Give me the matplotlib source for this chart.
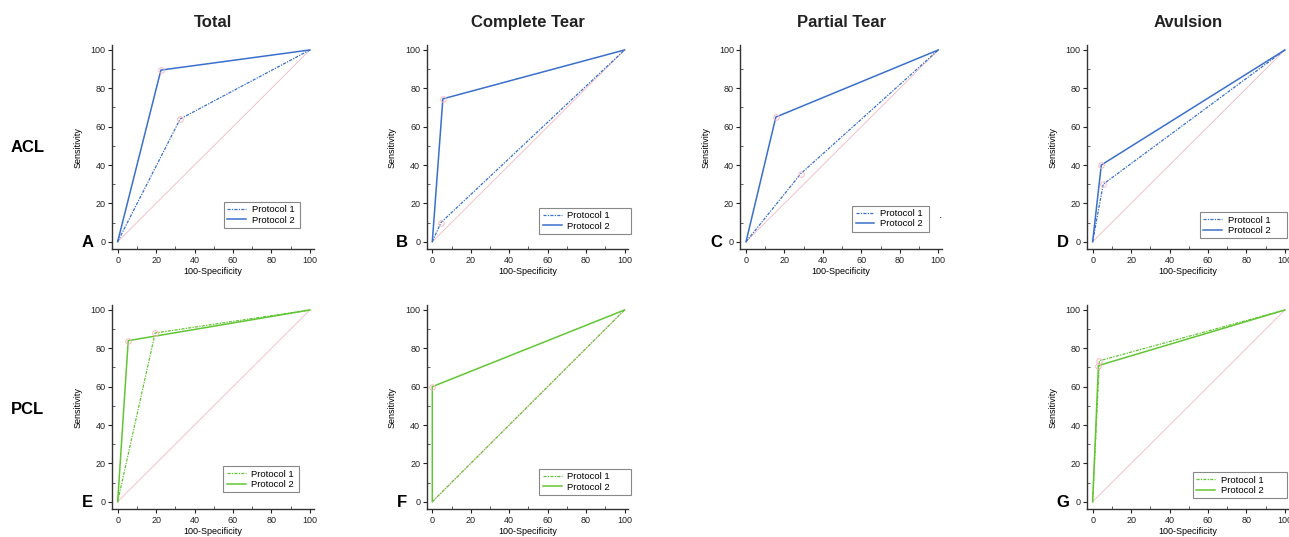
import matplotlib
matplotlib.use("Agg")
import matplotlib.pyplot as plt
from matplotlib.ticker import MultipleLocator

plt.rcParams['font.family'] = ['Liberation Sans', 'DejaVu Sans']

# ROC operating points (100-Specificity, Sensitivity)
acl_total_p1_x = [0, 32.5, 100]
acl_total_p1_y = [0, 64, 100]
acl_total_p2_x = [0, 22.5, 100]
acl_total_p2_y = [0, 89.5, 100]

acl_complete_p1_x = [0, 4.5, 100]
acl_complete_p1_y = [0, 10, 100]
acl_complete_p2_x = [0, 5.5, 100]
acl_complete_p2_y = [0, 74.5, 100]

acl_partial_p1_x = [0, 28.5, 100]
acl_partial_p1_y = [0, 35.5, 100]
acl_partial_p2_x = [0, 15.5, 100]
acl_partial_p2_y = [0, 65, 100]

acl_avulsion_p1_x = [0, 5.5, 100]
acl_avulsion_p1_y = [0, 30, 100]
acl_avulsion_p2_x = [0, 4.5, 100]
acl_avulsion_p2_y = [0, 40, 100]

pcl_total_p1_x = [0, 19.5, 100]
pcl_total_p1_y = [0, 88, 100]
pcl_total_p2_x = [0, 5.5, 100]
pcl_total_p2_y = [0, 84, 100]

pcl_complete_p1_x = [0, 100]
pcl_complete_p1_y = [0, 100]
pcl_complete_p2_x = [0, 0, 100]
pcl_complete_p2_y = [0, 60, 100]

pcl_avulsion_p1_x = [0, 3.5, 100]
pcl_avulsion_p1_y = [0, 73.5, 100]
pcl_avulsion_p2_x = [0, 3, 100]
pcl_avulsion_p2_y = [0, 71, 100]

col_titles = ['Total', 'Complete Tear', 'Partial Tear', 'Avulsion']
row_titles = ['ACL', 'PCL']
legend_labels = ['Protocol 1', 'Protocol 2']
ticks = [0, 20, 40, 60, 80, 100]

BLUE = '#3a70cc'
GREEN = '#62c634'
PINK = '#f5b8c2'

fig = plt.figure(figsize=(12.89, 5.37), dpi=100)

lefts = [0.0868, 0.3309, 0.5743, 0.8432]
bottoms = [0.5356, 0.0514]
W, H = 0.1566, 0.3803

# (letter, row, col, p1, p2, colour, legend bbox)
panels = [
    ('A', 0, 0, (acl_total_p1_x, acl_total_p1_y), (acl_total_p2_x, acl_total_p2_y), BLUE, (0.555, 0.105, 0.376)),
    ('B', 0, 1, (acl_complete_p1_x, acl_complete_p1_y), (acl_complete_p2_x, acl_complete_p2_y), BLUE, (0.559, 0.075, 0.455)),
    ('C', 0, 2, (acl_partial_p1_x, acl_partial_p1_y), (acl_partial_p2_x, acl_partial_p2_y), BLUE, (0.555, 0.087, 0.381)),
    ('D', 0, 3, (acl_avulsion_p1_x, acl_avulsion_p1_y), (acl_avulsion_p2_x, acl_avulsion_p2_y), BLUE, (0.560, 0.054, 0.430)),
    ('E', 1, 0, (pcl_total_p1_x, pcl_total_p1_y), (pcl_total_p2_x, pcl_total_p2_y), GREEN, (0.552, 0.084, 0.376)),
    ('F', 1, 1, (pcl_complete_p1_x, pcl_complete_p1_y), (pcl_complete_p2_x, pcl_complete_p2_y), GREEN, (0.559, 0.070, 0.455)),
    ('G', 1, 3, (pcl_avulsion_p1_x, pcl_avulsion_p1_y), (pcl_avulsion_p2_x, pcl_avulsion_p2_y), GREEN, (0.524, 0.054, 0.466)),
]

for letter, r, c, p1, p2, colour, lg in panels:
    ax = fig.add_axes([lefts[c], bottoms[r], W, H])

    # reference diagonal
    ax.plot([0, 100], [0, 100], color=PINK, lw=0.6, zorder=1)

    l1, = ax.plot(p1[0], p1[1], color=colour, lw=0.9, linestyle=(0, (2.5, 1, 1, 1)), zorder=3)
    l2, = ax.plot(p2[0], p2[1], color=colour, lw=1.1, zorder=3)

    # operating points
    for px, py in (p1, p2):
        ax.plot(px[1:-1], py[1:-1], 'o', ms=4, mfc='none', mec=PINK, mew=0.7, zorder=4)

    ax.set_xlim(-3, 102)
    ax.set_ylim(-4, 102.5)
    ax.set_xticks(ticks)
    ax.set_yticks(ticks)
    ax.xaxis.set_minor_locator(MultipleLocator(10))
    ax.yaxis.set_minor_locator(MultipleLocator(10))
    ax.tick_params(which='major', direction='out', length=3, width=0.8, labelsize=6.5, pad=1.5, colors='#222222')
    ax.tick_params(which='minor', direction='in', length=2, width=0.6, colors='#444444')
    for s in ('top', 'right'):
        ax.spines[s].set_visible(False)
    for s in ('left', 'bottom'):
        ax.spines[s].set_linewidth(1.0)
        ax.spines[s].set_color('#333333')

    ax.set_xlabel('100-Specificity', fontsize=6.5, labelpad=2)
    ax.set_ylabel('Sensitivity', fontsize=6.5, labelpad=6)

    leg = ax.legend([l1, l2], legend_labels, loc='lower left', mode='expand',
                    bbox_to_anchor=(lg[0], lg[1], lg[2], 0.1), fontsize=6.8,
                    handlelength=2.0, handletextpad=0.6, labelspacing=0.15,
                    borderpad=0.35, borderaxespad=0, fancybox=False, framealpha=1)
    leg.get_frame().set_edgecolor('#888888')
    leg.get_frame().set_linewidth(0.8)

    ax.text(-0.12, 0.035, letter, transform=ax.transAxes, fontsize=12,
            fontweight='bold', ha='center', va='center')

    if r == 0:
        fig.text(lefts[c] + W / 2, 0.959, col_titles[c], fontsize=12,
                 fontweight='bold', ha='center', va='center', color='#222222')

    if letter == 'C':
        ax.text(0.993, 0.149, '•', transform=ax.transAxes, fontsize=3,
                ha='center', va='center')

fig.text(0.0217, 0.7244, row_titles[0], fontsize=12, fontweight='bold', ha='center', va='center')
fig.text(0.0217, 0.2365, row_titles[1], fontsize=12, fontweight='bold', ha='center', va='center')

fig.savefig('out.png', dpi=100)
